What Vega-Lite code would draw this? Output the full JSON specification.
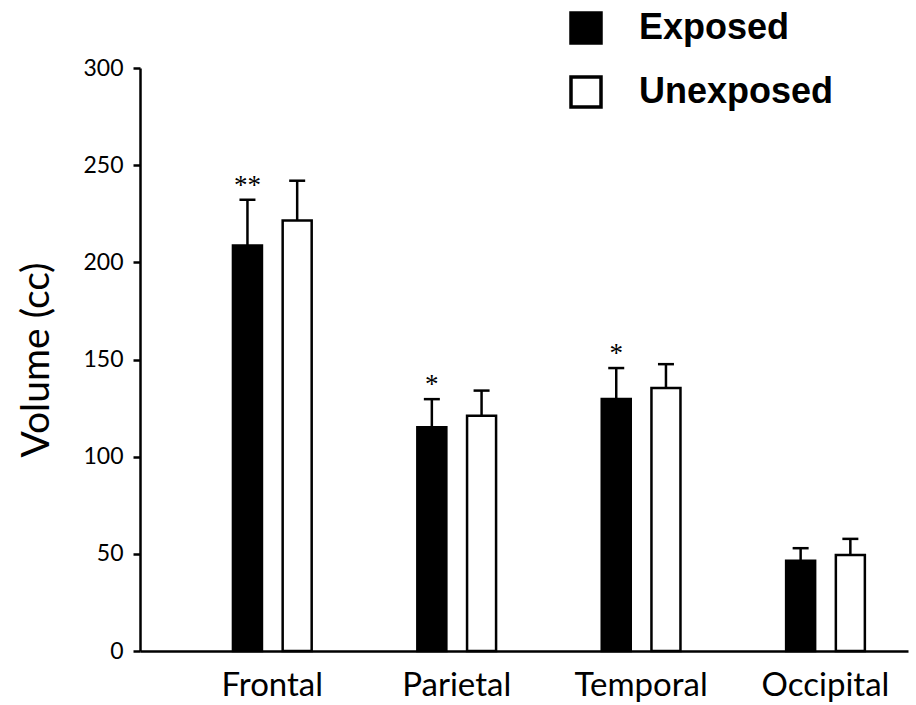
{
  "$schema": "https://vega.github.io/schema/vega-lite/v6.json",
  "width": 768,
  "height": 583,
  "autosize": "none",
  "padding": {"left": 140, "top": 68, "right": 8, "bottom": 54},
  "background": "white",
  "config": {"view": {"stroke": null}},
  "data": {
    "values": [
      {"region": "Frontal", "group": "Exposed", "volume": 208.7, "err": 232.2, "sig": "**"},
      {"region": "Frontal", "group": "Unexposed", "volume": 221.5, "err": 242.0, "sig": ""},
      {"region": "Parietal", "group": "Exposed", "volume": 115.2, "err": 129.6, "sig": "*"},
      {"region": "Parietal", "group": "Unexposed", "volume": 121.0, "err": 134.0, "sig": ""},
      {"region": "Temporal", "group": "Exposed", "volume": 129.7, "err": 145.6, "sig": "*"},
      {"region": "Temporal", "group": "Unexposed", "volume": 135.3, "err": 147.6, "sig": ""},
      {"region": "Occipital", "group": "Exposed", "volume": 46.5, "err": 52.9, "sig": ""},
      {"region": "Occipital", "group": "Unexposed", "volume": 49.4, "err": 57.7, "sig": ""}
    ]
  },
  "encoding": {
    "x": {
      "field": "region", "type": "nominal",
      "sort": ["Frontal", "Parietal", "Temporal", "Occipital"],
      "scale": {"paddingInner": 0.573, "paddingOuter": 0.369, "align": 0.683, "round": false},
      "axis": {
        "title": null, "ticks": false, "tickSize": 0,
        "domainColor": "black", "domainWidth": 2.5,
        "labelFont": "Lato", "labelFontSize": 33, "labelColor": "black",
        "labelPadding": 18, "labelAngle": 0
      }
    },
    "xOffset": {
      "field": "group", "type": "nominal",
      "sort": ["Exposed", "Unexposed"],
      "scale": {"paddingInner": 0.4165, "paddingOuter": 0, "round": false}
    }
  },
  "layer": [
    {
      "mark": {"type": "rule", "color": "black", "strokeWidth": 2.5},
      "encoding": {
        "y": {"field": "volume", "type": "quantitative"},
        "y2": {"field": "err"}
      }
    },
    {
      "mark": {"type": "tick", "color": "black", "size": 16, "thickness": 2.5, "opacity": 1},
      "encoding": {
        "y": {"field": "err", "type": "quantitative"}
      }
    },
    {
      "mark": {"type": "bar", "stroke": "black", "strokeWidth": 2.5, "opacity": 1},
      "encoding": {
        "y": {
          "field": "volume", "type": "quantitative",
          "scale": {"domain": [0, 300], "nice": false, "zero": true},
          "axis": {
            "title": "Volume (cc)", "values": [0, 50, 100, 150, 200, 250, 300],
            "grid": false, "domainColor": "black", "domainWidth": 2.5,
            "tickColor": "black", "tickWidth": 2.5, "tickSize": 7,
            "labelFont": "Lato", "labelFontSize": 23, "labelColor": "black", "labelPadding": 10,
            "titleFont": "Lato", "titleFontSize": 39, "titleFontWeight": "normal",
            "titleColor": "black", "titlePadding": 26
          }
        },
        "fill": {
          "field": "group", "type": "nominal",
          "scale": {"domain": ["Exposed", "Unexposed"], "range": ["black", "white"]},
          "legend": {
            "title": null, "orient": "none", "legendX": 428, "legendY": -58,
            "padding": 0, "symbolType": "square", "symbolSize": 900,
            "symbolStrokeColor": "black", "symbolStrokeWidth": 3.5, "symbolOpacity": 1,
            "labelFont": "Liberation Sans", "labelFontWeight": "bold", "labelFontSize": 36,
            "labelColor": "black", "labelOffset": 35, "rowPadding": 20, "labelLimit": 400
          }
        }
      }
    },
    {
      "mark": {"type": "text", "font": "Liberation Serif", "fontSize": 27, "color": "black", "baseline": "alphabetic", "dy": -6},
      "encoding": {
        "y": {"field": "err", "type": "quantitative"},
        "text": {"field": "sig"}
      }
    }
  ]
}
